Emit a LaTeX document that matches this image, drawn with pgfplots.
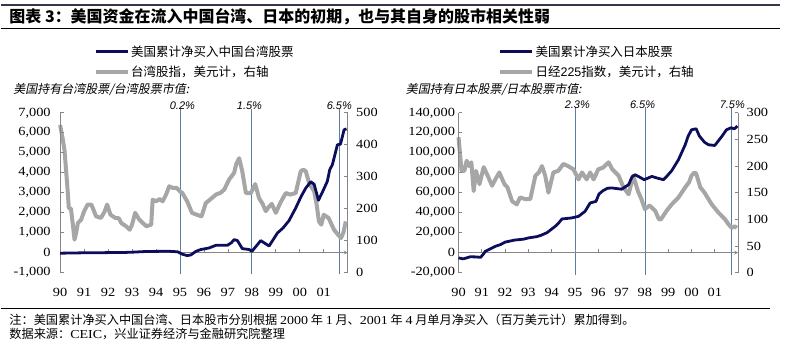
\documentclass[border=0pt]{standalone}
\usepackage{fontspec}
\setmainfont{Liberation Serif}[FakeStretch=1.15]
\newfontfamily\cjk{Noto Sans CJK SC}
\newfontfamily\cjkit{Noto Sans CJK SC}[FakeSlant=0.2]
\newfontfamily\pct{Liberation Sans}
\usepackage{pgfplots}
\pgfplotsset{compat=1.18}
\definecolor{navyline}{RGB}{12,14,92}
\definecolor{grayline}{RGB}{166,166,166}
\definecolor{axisgray}{RGB}{134,134,134}
\definecolor{vline}{RGB}{90,125,165}
\definecolor{titlebar}{RGB}{55,55,75}
\tikzset{pl/.style={font=\pct\itshape\fontsize{11}{13}\selectfont}}
\pgfplotsset{
  base/.style={scale only axis, anchor=south west, xmin=1990, xmax=2002, clip=false,
    axis line style={-, draw=axisgray, line width=0.7pt},
    tick style={draw=axisgray, line width=0.7pt},
    major tick length=3.5pt, scaled y ticks=false,
    tick label style={font=\fontsize{12.5}{14}\selectfont, text=black},
    /pgf/number format/fixed,
    /pgf/number format/precision=0,
    /pgf/number format/1000 sep={,},
    /pgf/number format/assume math mode=true},
  leftax/.style={base, axis y line*=left, axis x line=middle, tick align=inside,
    hide obscured x ticks=false, hide obscured y ticks=false,
    xtick={1990,1991,...,2001},
    xticklabels={90,91,92,93,94,95,96,97,98,99,00,01},
    xticklabel style={yshift=-32pt}},
  rightax/.style={base, axis y line*=right, axis x line=none, tick align=inside,
    yticklabel style={xshift=5pt}},
  vl/.style={draw=vline, line width=0.8pt}
}
\begin{document}
\begin{tikzpicture}[x=1pt,y=1pt]
\path (0,0) rectangle (790,344);
% title
\draw[titlebar, line width=2.5pt] (0,339) -- (780,339);
\draw[black, line width=0.8pt] (0,316) -- (780,316);
\node[anchor=west, inner sep=0] at (8,327.5) {\cjk\bfseries\fontsize{16}{18}\selectfont 图表 3：美国资金在流入中国台湾、日本的初期，也与其自身的股市相关性弱};
% footer
\draw[black, line width=0.6pt] (0,35) -- (770,35);
\node[anchor=west, inner sep=0] at (8,24) {\cjk\fontsize{12.2}{14}\selectfont 注：美国累计净买入中国台湾、日本股市分别根据 {\rmfamily 2000} 年 {\rmfamily 1} 月、{\rmfamily 2001} 年 {\rmfamily 4} 月单月净买入（百万美元计）累加得到。};
\node[anchor=west, inner sep=0] at (8,9) {\cjk\fontsize{12.2}{14}\selectfont 数据来源：{\rmfamily CEIC}，兴业证券经济与金融研究院整理};
% legends
\draw[navyline, line width=3pt] (95,292) -- (127,292);
\node[anchor=west, inner sep=0] at (130,292) {\cjk\fontsize{12.5}{14}\selectfont 美国累计净买入中国台湾股票};
\draw[grayline, line width=4pt] (95,272) -- (127,272);
\node[anchor=west, inner sep=0] at (130,272) {\cjk\fontsize{12.5}{14}\selectfont 台湾股指，美元计，右轴};
\node[anchor=west, inner sep=0] at (12,254) {\cjkit\fontsize{12}{14}\selectfont 美国持有台湾股票/台湾股票市值:};
\draw[navyline, line width=3pt] (500,292) -- (532,292);
\node[anchor=west, inner sep=0] at (535,292) {\cjk\fontsize{12.5}{14}\selectfont 美国累计净买入日本股票};
\draw[grayline, line width=4pt] (500,272) -- (532,272);
\node[anchor=west, inner sep=0] at (535,272) {\cjk\fontsize{12.5}{14}\selectfont 日经{\pct 225}指数，美元计，右轴};
\node[anchor=west, inner sep=0] at (405,254) {\cjkit\fontsize{12}{14}\selectfont 美国持有日本股票/日本股票市值:};

% ===== LEFT CHART: right axis (Taiwan index) =====
\begin{axis}[rightax, at={(59pt,71pt)}, width=288pt, height=160pt,
  ymin=0, ymax=500, ytick={0,100,...,500}]
\addplot[vl] coordinates {(1995,-6)(1995,512)};
\addplot[vl] coordinates {(1998,-6)(1998,512)};
\addplot[vl] coordinates {(2001.67,-6)(2001.67,512)};
\node[pl] at (axis cs:1995.1,522) {0.2\%};
\node[pl] at (axis cs:1997.9,522) {1.5\%};
\node[pl] at (axis cs:2001.65,522) {6.5\%};
\addplot[grayline, line width=4pt, line join=round] coordinates {
(1990.00,462)(1990.10,421)(1990.18,384)(1990.25,317)(1990.32,250)(1990.36,202)(1990.45,200)
(1990.53,150)(1990.60,103)(1990.67,125)(1990.74,155)(1990.88,166)(1991.00,192)(1991.15,213)
(1991.30,213)(1991.40,195)(1991.50,176)(1991.70,171)(1991.85,190)(1991.96,213)(1992.10,181)
(1992.30,171)(1992.45,170)(1992.55,155)(1992.75,145)(1992.90,134)(1993.00,150)(1993.13,187)
(1993.30,166)(1993.45,155)(1993.60,145)(1993.80,150)(1993.86,228)(1994.00,223)(1994.15,230)
(1994.28,223)(1994.42,244)(1994.55,270)(1994.70,265)(1994.86,265)(1995.00,254)(1995.10,249)
(1995.30,223)(1995.50,187)(1995.70,181)(1995.90,176)(1996.08,218)(1996.25,228)(1996.50,244)
(1996.70,250)(1996.85,260)(1997.05,291)(1997.26,312)(1997.35,340)(1997.47,358)(1997.60,317)
(1997.75,249)(1997.96,249)(1998.14,277)(1998.30,233)(1998.45,215)(1998.58,192)(1998.70,205)
(1998.83,215)(1999.00,187)(1999.20,220)(1999.42,249)(1999.60,244)(1999.83,249)(2000.04,317)
(2000.15,322)(2000.25,317)(2000.39,280)(2000.60,254)(2000.70,215)(2000.80,160)(2000.90,150)
(2001.00,181)(2001.20,171)(2001.43,134)(2001.60,118)(2001.72,108)(2001.82,125)(2001.92,160)};
\end{axis}
% ===== LEFT CHART: left axis (US net purchases Taiwan) =====
\begin{axis}[leftax, at={(59pt,71pt)}, width=288pt, height=160pt,
  ymin=-1000, ymax=7000, ytick={-1000,0,...,7000}, yticklabel style={xshift=-6pt}]
\addplot[navyline, line width=2.8pt, line join=round] coordinates {
(1990.00,-30)(1990.50,-20)(1991.00,-10)(1991.50,-10)(1992.00,0)(1992.50,0)(1993.00,20)
(1993.50,50)(1994.00,60)(1994.50,70)(1994.90,40)(1995.10,-80)(1995.30,-150)(1995.45,-120)
(1995.67,65)(1995.86,150)(1996.22,235)(1996.50,365)(1996.98,365)(1997.15,500)(1997.26,650)
(1997.40,600)(1997.60,200)(1997.90,150)(1998.00,60)(1998.20,350)(1998.37,600)(1998.50,500)
(1998.72,330)(1999.07,985)(1999.30,1230)(1999.55,1600)(1999.83,2230)(2000.05,2800)(2000.25,3230)
(2000.46,3550)(2000.60,3420)(2000.78,2620)(2000.96,3070)(2001.15,3570)(2001.25,4150)(2001.36,4400)
(2001.57,5400)(2001.70,5430)(2001.85,6150)(2001.95,6200)};
\end{axis}

% ===== RIGHT CHART: right axis (Nikkei) =====
\begin{axis}[rightax, at={(458pt,71pt)}, width=280pt, height=160pt,
  ymin=0, ymax=300, ytick={0,50,...,300}]
\addplot[vl] coordinates {(1995,-4)(1995,311)};
\addplot[vl] coordinates {(1998,-4)(1998,311)};
\addplot[vl] coordinates {(2001.7,-4)(2001.7,311)};
\node[pl] at (axis cs:1995.1,315) {2.3\%};
\node[pl] at (axis cs:1997.9,315) {6.5\%};
\node[pl] at (axis cs:2001.75,315) {7.5\%};
\addplot[grayline, line width=4pt, line join=round] coordinates {
(1990.00,254)(1990.13,191)(1990.25,191)(1990.35,210)(1990.45,200)(1990.55,207)(1990.65,153)
(1990.75,191)(1990.90,166)(1991.08,198)(1991.25,182)(1991.44,163)(1991.58,175)(1991.75,188)
(1991.97,166)(1992.10,160)(1992.30,134)(1992.50,128)(1992.64,141)(1992.86,138)(1993.08,138)
(1993.30,182)(1993.45,188)(1993.58,200)(1993.72,182)(1993.86,150)(1994.07,188)(1994.28,191)
(1994.50,204)(1994.70,200)(1994.93,194)(1995.15,175)(1995.30,188)(1995.50,175)(1995.65,188)
(1995.80,175)(1996.00,194)(1996.20,197)(1996.44,207)(1996.60,194)(1996.87,182)(1997.08,160)
(1997.30,147)(1997.50,182)(1997.70,153)(1997.85,138)(1998.00,119)(1998.20,126)(1998.44,116)
(1998.60,100)(1998.69,100)(1998.93,116)(1999.15,128)(1999.44,141)(1999.73,160)(1999.90,170)
(2000.00,182)(2000.13,188)(2000.20,186)(2000.38,160)(2000.56,150)(2000.87,128)(2001.15,113)
(2001.44,100)(2001.60,90)(2001.73,84)(2001.85,87)(2001.95,84)};
\end{axis}
% ===== RIGHT CHART: left axis (US net purchases Japan) =====
\begin{axis}[leftax, at={(458pt,71pt)}, width=280pt, height=160pt,
  ymin=-20000, ymax=140000, ytick={-20000,0,...,140000}, yticklabel style={xshift=0pt}]
\addplot[navyline, line width=2.8pt, line join=round] coordinates {
(1990.00,-5300)(1990.20,-6300)(1990.50,-4200)(1990.70,-4300)(1990.95,-4700)(1991.05,-2000)
(1991.15,1300)(1991.58,6300)(1991.80,8000)(1992.00,10500)(1992.40,12500)(1992.80,13500)
(1993.00,14700)(1993.36,16000)(1993.54,17300)(1993.80,20000)(1994.15,26300)(1994.30,29700)
(1994.44,33700)(1994.85,34700)(1995.15,36300)(1995.43,41300)(1995.65,49700)(1995.90,51300)
(1996.03,58700)(1996.20,62000)(1996.40,64500)(1996.60,64700)(1997.00,63500)(1997.30,68000)
(1997.45,76000)(1997.58,78000)(1997.78,75500)(1997.97,73000)(1998.30,76300)(1998.55,74500)
(1998.80,73000)(1998.95,76700)(1999.15,82000)(1999.44,93000)(1999.73,108000)(1999.85,116300)
(2000.00,123000)(2000.20,124000)(2000.34,116700)(2000.56,110500)(2000.73,108000)(2001.00,107300)
(2001.30,116300)(2001.50,123000)(2001.70,125000)(2001.84,124000)(2001.97,126700)};
\end{axis}
\end{tikzpicture}
\end{document}
